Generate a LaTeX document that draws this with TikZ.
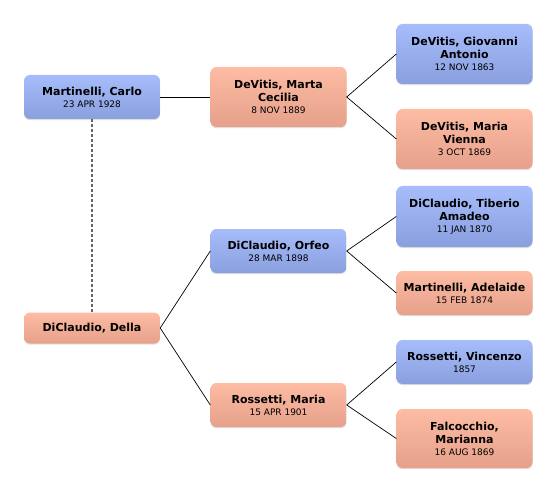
\documentclass[tikz,border=0pt]{standalone}
\usepackage{fontspec}
\setmainfont{DejaVu Sans}
\usetikzlibrary{shadows}
\definecolor{bluetop}{HTML}{A6BCFB}
\definecolor{bluebot}{HTML}{8A9FDE}
\definecolor{saltop}{HTML}{FDBCA3}
\definecolor{salbot}{HTML}{E6A08B}
\tikzset{
  person/.style={rounded corners=6pt, minimum width=136pt, align=center,
    inner sep=2pt, font=\fontsize{11}{13}\selectfont\bfseries,
    drop shadow={shadow xshift=0pt, shadow yshift=-1.2pt, opacity=0.25}},
  male/.style={person, top color=bluetop, bottom color=bluebot},
  female/.style={person, top color=saltop, bottom color=salbot},
  link/.style={draw=black, line width=0.7pt},
  spouse/.style={draw=gray!80!black, line width=1.2pt, dash pattern=on 2.5pt off 2.5pt}
}
\newcommand{\dt}[1]{\\[-1pt]{\fontsize{9}{11}\selectfont\mdseries #1}}
\begin{document}
\begin{tikzpicture}[x=1pt,y=-1pt]
\useasboundingbox (0,0) rectangle (556,494);
\node[male, minimum height=44pt] (carlo) at (92,97) {Martinelli, Carlo\dt{23 APR 1928}};
\node[female, minimum height=31pt] (della) at (92,328) {DiClaudio, Della};
\node[female, minimum height=60pt] (marta) at (278.5,97) {DeVitis, Marta\\Cecilia\dt{8 NOV 1889}};
\node[male, minimum height=44pt] (orfeo) at (278.5,251) {DiClaudio, Orfeo\dt{28 MAR 1898}};
\node[female, minimum height=44pt] (rmaria) at (278.5,405) {Rossetti, Maria\dt{15 APR 1901}};
\node[male, minimum height=60pt] (giov) at (464.5,54) {DeVitis, Giovanni\\Antonio\dt{12 NOV 1863}};
\node[female, minimum height=60pt] (vienna) at (464.5,139) {DeVitis, Maria\\Vienna\dt{3 OCT 1869}};
\node[male, minimum height=61pt] (tiberio) at (464.5,216.5) {DiClaudio, Tiberio\\Amadeo\dt{11 JAN 1870}};
\node[female, minimum height=44pt] (adel) at (464.5,293) {Martinelli, Adelaide\dt{15 FEB 1874}};
\node[male, minimum height=44pt] (vinc) at (464.5,362) {Rossetti, Vincenzo\dt{1857}};
\node[female, minimum height=59pt] (falc) at (464.5,438.5) {Falcocchio,\\Marianna\dt{16 AUG 1869}};
\draw[spouse] (carlo.south) -- (della.north);
\draw[link] (carlo.east) -- (marta.west);
\draw[link] (marta.east) -- (giov.west);
\draw[link] (marta.east) -- (vienna.west);
\draw[link] (della.east) -- (orfeo.west);
\draw[link] (della.east) -- (rmaria.west);
\draw[link] (orfeo.east) -- (tiberio.west);
\draw[link] (orfeo.east) -- (adel.west);
\draw[link] (rmaria.east) -- (vinc.west);
\draw[link] (rmaria.east) -- (falc.west);
\end{tikzpicture}
\end{document}
